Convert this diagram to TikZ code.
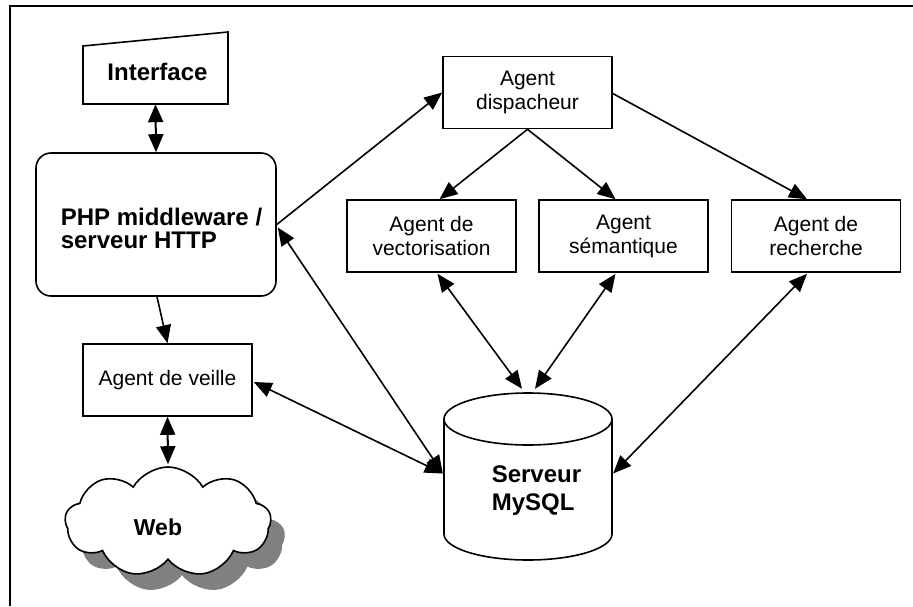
\documentclass[tikz,border=0pt]{standalone}
\usepackage{fontspec}
\setmainfont{Liberation Sans}
\usetikzlibrary{arrows.meta,shapes.symbols,calc}
\begin{document}
\begin{tikzpicture}[x=1pt,y=-1pt,
  box/.style={draw,line width=1.6pt,rectangle,minimum width=169pt,minimum height=72pt,inner sep=0pt,align=center,font=\fontsize{21}{24}\selectfont},
  ghost/.style={inner sep=0pt,rectangle},
  conn/.style={line width=1.6pt,-{Triangle[length=18pt,width=15pt]}},
  dconn/.style={line width=1.6pt,{Triangle[length=18pt,width=15pt]}-{Triangle[length=18pt,width=15pt]}},
  bigtxt/.style={font=\fontsize{24}{23}\bfseries\selectfont,align=left,inner sep=0pt},
  cloudsh/.style={cloud,cloud puffs=9,cloud puff arc=120,cloud ignores aspect,minimum width=206pt,minimum height=110pt,line width=1.6pt,inner sep=0pt}
]
\useasboundingbox (0,0) rectangle (913,606);
\fill[white] (0,0) rectangle (913,606);
% frame
\draw[line width=2pt] (913,6) -- (10,6) -- (10,606);

% Interface (manual input)
\draw[line width=1.6pt] (83,46) -- (228,32) -- (228,104) -- (83,104) -- cycle;
\node[ghost,minimum width=145pt,minimum height=72pt] (iface) at (155.5,68) {};
\node[bigtxt] (ifacet) at (157.5,72) {Interface};

% PHP
\node[draw,line width=1.6pt,rounded corners=15pt,minimum width=240pt,minimum height=143pt,inner sep=0pt] (php) at (156,224.5) {};
\node[bigtxt] (phpt) at (161.5,228) {PHP middleware /\\serveur HTTP};

% agents
\node[box] (disp) at (527.5,92.5) {Agent\\dispacheur};
\node[box] (vect) at (431.5,236) {Agent de\\vectorisation};
\node[box] (sem) at (623.5,236) {Agent\\sémantique};
\node[box] (rech) at (816,236) {Agent de\\recherche};
\node[box] (veille) at (167.5,380) {Agent de veille};

% MySQL cylinder
\node[ghost,minimum width=168pt,minimum height=167pt] (mysql) at (528,476.5) {};
\draw[line width=1.6pt,fill=white] (444,419) -- (444,534) arc[start angle=180,end angle=360,x radius=84pt,y radius=26pt] -- (612,419) arc[start angle=0,end angle=-180,x radius=84pt,y radius=26pt] -- cycle;
\draw[line width=1.6pt] (444,419) arc[start angle=180,end angle=360,x radius=84pt,y radius=-26pt];
\node[bigtxt,font=\fontsize{24}{28}\bfseries\selectfont] (mysqlt) at (536.5,491) {Serveur\\MySQL};

% Web cloud with shadow
\node[cloudsh,fill=black!50,draw=none] (webshadow) at (182,538) {};
\node[cloudsh,draw,fill=white] (web) at (168,522) {};
\node[bigtxt,font=\fontsize{23}{23}\bfseries\selectfont] (webt) at (158,527) {Web};

% connectors
\draw[dconn,line width=2pt] (iface.south) -- (php.north);
\draw[conn] (php.east) -- (disp.west);
\draw[conn] (disp.south) -- ($(vect.north)+(8,0)$);
\draw[conn] (disp.south) -- ($(sem.north)+(-8,0)$);
\draw[conn] ($(disp.east)+(0,1)$) -- ($(rech.north)+(-9,0)$);
\draw[dconn] ($(vect.south)+(6,1)$) -- ($(mysql.north)+(-6,-4)$);
\draw[dconn] ($(sem.south)+(-8,1)$) -- ($(mysql.north)+(7,-4)$);
\draw[dconn] ($(rech.south)+(-9,1)$) -- ($(mysql.east)+(1,-3)$);
\draw[dconn] ($(php.east)+(1,3)$) -- ($(mysql.west)+(-1,-3)$);
\draw[conn] ($(php.south)+(1,0)$) -- (veille.north);
\draw[dconn] ($(veille.east)+(1,2)$) -- ($(mysql.west)+(-1,-3)$);
\draw[dconn,line width=2pt] (veille.south) -- ($(web.north)+(0,-2)$);
\end{tikzpicture}
\end{document}
